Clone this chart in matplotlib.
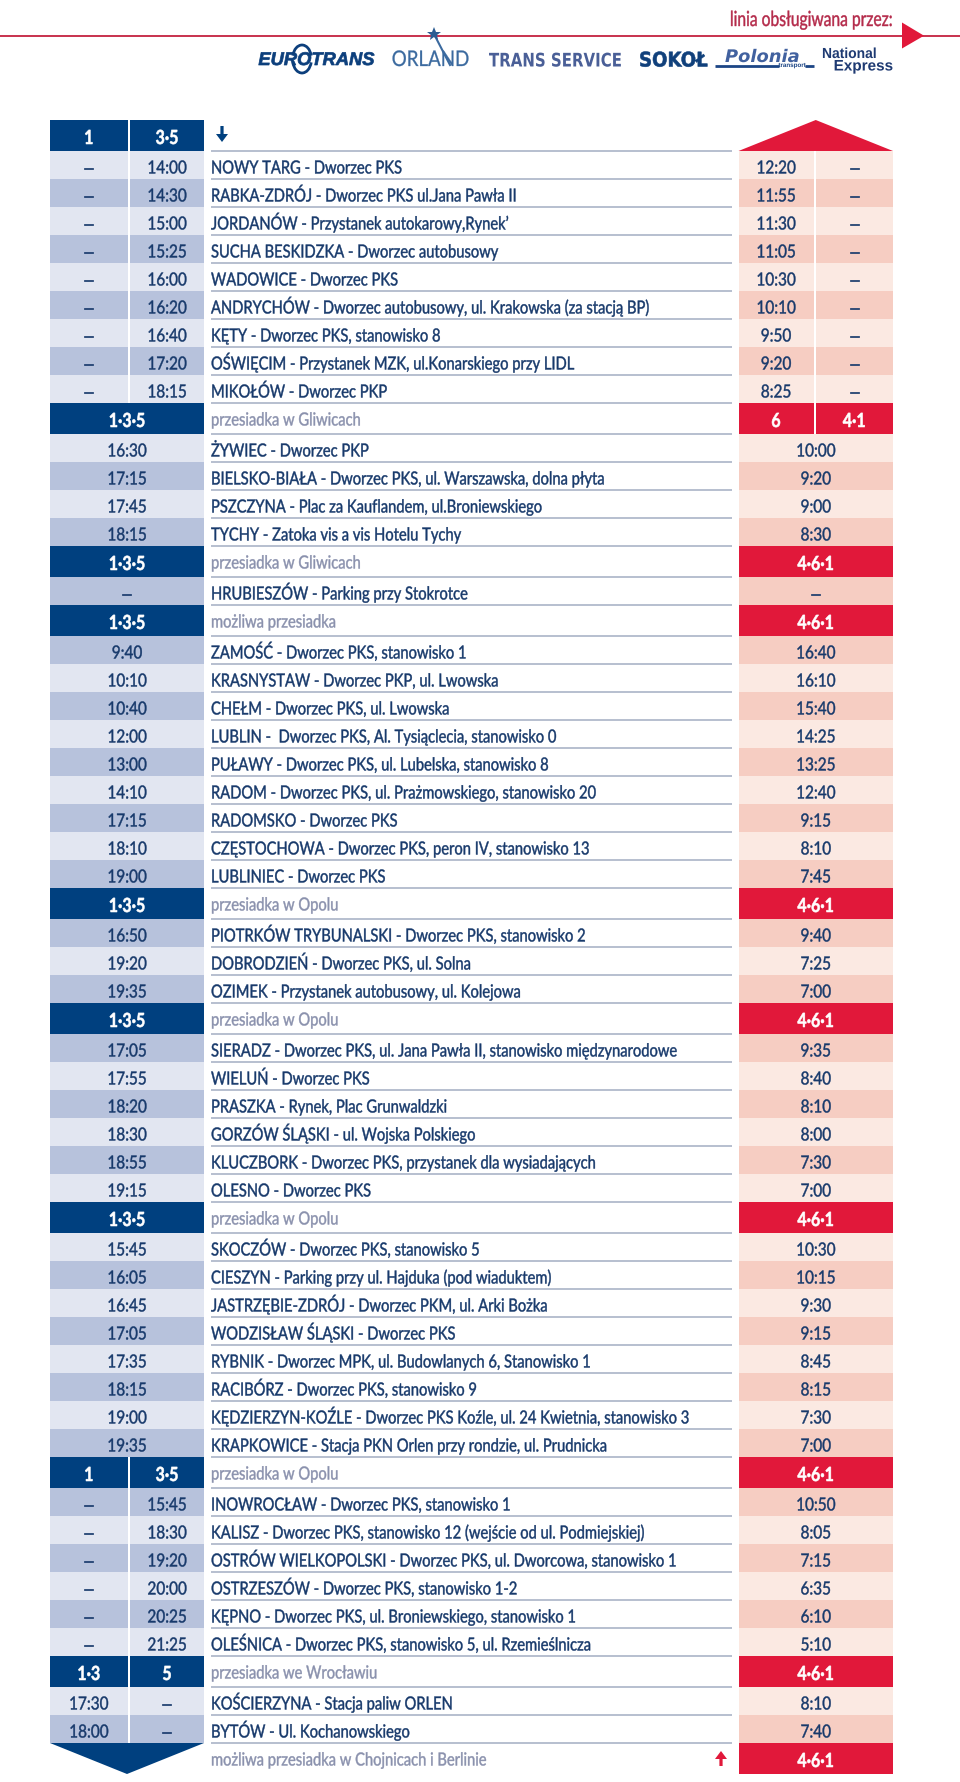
import matplotlib
matplotlib.use('Agg')
import matplotlib.pyplot as plt
from matplotlib.patches import Rectangle, Polygon, Arc
from matplotlib.patheffects import AbstractPathEffect
from matplotlib.text import Text
from matplotlib.transforms import Affine2D, Bbox

plt.rcParams['font.family'] = ['Lato', 'DejaVu Sans']

stops = [
    '',
    'NOWY TARG - Dworzec PKS',
    'RABKA-ZDRÓJ - Dworzec PKS ul.Jana Pawła II',
    'JORDANÓW - Przystanek autokarowy,Rynek’',
    'SUCHA BESKIDZKA - Dworzec autobusowy',
    'WADOWICE - Dworzec PKS',
    'ANDRYCHÓW - Dworzec autobusowy, ul. Krakowska (za stacją BP)',
    'KĘTY - Dworzec PKS, stanowisko 8',
    'OŚWIĘCIM - Przystanek MZK, ul.Konarskiego przy LIDL',
    'MIKOŁÓW - Dworzec PKP',
    'przesiadka w Gliwicach',
    'ŻYWIEC - Dworzec PKP',
    'BIELSKO-BIAŁA - Dworzec PKS, ul. Warszawska, dolna płyta',
    'PSZCZYNA - Plac za Kauflandem, ul.Broniewskiego',
    'TYCHY - Zatoka vis a vis Hotelu Tychy',
    'przesiadka w Gliwicach',
    'HRUBIESZÓW - Parking przy Stokrotce',
    'możliwa przesiadka',
    'ZAMOŚĆ - Dworzec PKS, stanowisko 1',
    'KRASNYSTAW - Dworzec PKP, ul. Lwowska',
    'CHEŁM - Dworzec PKS, ul. Lwowska',
    'LUBLIN -  Dworzec PKS, Al. Tysiąclecia, stanowisko 0',
    'PUŁAWY - Dworzec PKS, ul. Lubelska, stanowisko 8',
    'RADOM - Dworzec PKS, ul. Prażmowskiego, stanowisko 20',
    'RADOMSKO - Dworzec PKS',
    'CZĘSTOCHOWA - Dworzec PKS, peron IV, stanowisko 13',
    'LUBLINIEC - Dworzec PKS',
    'przesiadka w Opolu',
    'PIOTRKÓW TRYBUNALSKI - Dworzec PKS, stanowisko 2',
    'DOBRODZIEŃ - Dworzec PKS, ul. Solna',
    'OZIMEK - Przystanek autobusowy, ul. Kolejowa',
    'przesiadka w Opolu',
    'SIERADZ - Dworzec PKS, ul. Jana Pawła II, stanowisko międzynarodowe',
    'WIELUŃ - Dworzec PKS',
    'PRASZKA - Rynek, Plac Grunwaldzki',
    'GORZÓW ŚLĄSKI - ul. Wojska Polskiego',
    'KLUCZBORK - Dworzec PKS, przystanek dla wysiadających',
    'OLESNO - Dworzec PKS',
    'przesiadka w Opolu',
    'SKOCZÓW - Dworzec PKS, stanowisko 5',
    'CIESZYN - Parking przy ul. Hajduka (pod wiaduktem)',
    'JASTRZĘBIE-ZDRÓJ - Dworzec PKM, ul. Arki Bożka',
    'WODZISŁAW ŚLĄSKI - Dworzec PKS',
    'RYBNIK - Dworzec MPK, ul. Budowlanych 6, Stanowisko 1',
    'RACIBÓRZ - Dworzec PKS, stanowisko 9',
    'KĘDZIERZYN-KOŹLE - Dworzec PKS Koźle, ul. 24 Kwietnia, stanowisko 3',
    'KRAPKOWICE - Stacja PKN Orlen przy rondzie, ul. Prudnicka',
    'przesiadka w Opolu',
    'INOWROCŁAW - Dworzec PKS, stanowisko 1',
    'KALISZ - Dworzec PKS, stanowisko 12 (wejście od ul. Podmiejskiej)',
    'OSTRÓW WIELKOPOLSKI - Dworzec PKS, ul. Dworcowa, stanowisko 1',
    'OSTRZESZÓW - Dworzec PKS, stanowisko 1-2',
    'KĘPNO - Dworzec PKS, ul. Broniewskiego, stanowisko 1',
    'OLEŚNICA - Dworzec PKS, stanowisko 5, ul. Rzemieślnicza',
    'przesiadka we Wrocławiu',
    'KOŚCIERZYNA - Stacja paliw ORLEN',
    'BYTÓW - Ul. Kochanowskiego',
    'możliwa przesiadka w Chojnicach i Berlinie',
]

# None in a *_2 list means the cell spans both columns
left_1 = ['1', '–', '–', '–', '–', '–', '–', '–', '–', '–',
          '1·3·5', '16:30', '17:15', '17:45', '18:15',
          '1·3·5', '–',
          '1·3·5', '9:40', '10:10', '10:40', '12:00', '13:00', '14:10', '17:15', '18:10', '19:00',
          '1·3·5', '16:50', '19:20', '19:35',
          '1·3·5', '17:05', '17:55', '18:20', '18:30', '18:55', '19:15',
          '1·3·5', '15:45', '16:05', '16:45', '17:05', '17:35', '18:15', '19:00', '19:35',
          '1', '–', '–', '–', '–', '–', '–',
          '1·3', '17:30', '18:00', None]
left_2 = ['3·5', '14:00', '14:30', '15:00', '15:25', '16:00', '16:20', '16:40', '17:20', '18:15',
          None, None, None, None, None,
          None, None,
          None, None, None, None, None, None, None, None, None, None,
          None, None, None, None,
          None, None, None, None, None, None, None,
          None, None, None, None, None, None, None, None, None,
          '3·5', '15:45', '18:30', '19:20', '20:00', '20:25', '21:25',
          '5', '–', '–', None]
right_1 = [None, '12:20', '11:55', '11:30', '11:05', '10:30', '10:10', '9:50', '9:20', '8:25',
           '6', '10:00', '9:20', '9:00', '8:30',
           '4·6·1', '–',
           '4·6·1', '16:40', '16:10', '15:40', '14:25', '13:25', '12:40', '9:15', '8:10', '7:45',
           '4·6·1', '9:40', '7:25', '7:00',
           '4·6·1', '9:35', '8:40', '8:10', '8:00', '7:30', '7:00',
           '4·6·1', '10:30', '10:15', '9:30', '9:15', '8:45', '8:15', '7:30', '7:00',
           '4·6·1', '10:50', '8:05', '7:15', '6:35', '6:10', '5:10',
           '4·6·1', '8:10', '7:40', '4·6·1']
right_2 = [None, '–', '–', '–', '–', '–', '–', '–', '–', '–',
           '4·1'] + [None] * 47

# does the band pattern start with the darker tint, section by section
section_starts_dark = [False, False, True, True, True, True, False, True, False]

operators = ['EUROTRANS', 'ORLAND', 'TRANS SERVICE', 'SOKOŁ', 'Polonia', 'transport', 'National', 'Express']

NAVY = '#00407f'
RED = '#e1183a'
BLUE_LIGHT = '#e2e6f1'
BLUE_DARK = '#b7c2dc'
PINK_LIGHT = '#fbe9e2'
PINK_DARK = '#f6cdc2'
RULE = '#a3adc2'
TEXT = '#17396b'
GREY = '#8a91ad'

fig = plt.figure(figsize=(9.6, 17.83), dpi=100)
ax = fig.add_axes([0, 0, 1, 1])
ax.set_xlim(0, 960)
ax.set_ylim(1783, 0)
ax.axis('off')

L0, L1, L2, L3 = 50, 127.5, 130, 204
R0, R1, R2, R3 = 738.5, 813.5, 815.5, 893
TEXT_X, RULE_END = 211, 732
SIZE = 13
CELL_SQUEEZE = 0.85
STOP_SQUEEZE = 0.815
STROKE = 0.3


class Squeeze(AbstractPathEffect):
    # none of the installed fonts is condensed, so narrow the glyphs when drawn
    def __init__(self, text, factor, stroke):
        super().__init__()
        self.text = text
        self.factor = factor
        self.stroke = stroke

    def draw_path(self, renderer, gc, tpath, affine, rgbFace=None):
        x0 = self.text.get_transform().transform(self.text.get_position())[0]
        narrow = affine + Affine2D().translate(-x0, 0).scale(self.factor, 1).translate(x0, 0)
        gc0 = renderer.new_gc()
        gc0.copy_properties(gc)
        gc0.set_foreground(rgbFace)
        gc0.set_linewidth(self.stroke)
        renderer.draw_path(gc0, tpath, narrow, rgbFace)
        gc0.restore()


class NarrowText(Text):
    def __init__(self, x, y, s, factor, stroke, **kw):
        super().__init__(x, y, s, **kw)
        self.factor = factor
        self.set_path_effects([Squeeze(self, factor, stroke)])

    def get_window_extent(self, renderer=None, dpi=None):
        box = super().get_window_extent(renderer, dpi)
        x0 = self.get_transform().transform(self.get_position())[0]
        return Bbox([[x0 + (box.x0 - x0) * self.factor, box.y0],
                     [x0 + (box.x1 - x0) * self.factor, box.y1]])


def label(x, y, s, factor=CELL_SQUEEZE, stroke=STROKE, **kw):
    kw.setdefault('va', 'baseline')
    kw.setdefault('zorder', 3)
    return ax.add_artist(NarrowText(x, y, s, factor, stroke, **kw))


def band(x0, x1, top, bottom, color):
    ax.add_patch(Rectangle((x0, top), x1 - x0, bottom - top, fc=color, ec='none', zorder=1))


def cell_text(x, base, s, txt, transfer):
    if s == '–':
        # the dash of the original is long and heavy
        label(x, base, s, 1.25, 0.5, ha='center', color=txt, fontsize=SIZE)
    elif transfer:
        label(x, base, s, 0.82, 0.4, ha='center', color=txt, fontsize=SIZE + 1, fontweight='bold')
    else:
        label(x, base, s, ha='center', color=txt, fontsize=SIZE)


def cells(first, second, x0, x1, x2, x3, top, bottom, color, transfer):
    txt = 'white' if transfer else TEXT
    base = bottom - (7 if transfer else 5.5)
    if second is None:
        band(x0, x3, top, bottom, color)
        cell_text((x0 + x3) / 2, base, first, txt, transfer)
    else:
        band(x0, x1, top, bottom, color)
        band(x2, x3, top, bottom, color)
        cell_text((x0 + x1) / 2, base, first, txt, transfer)
        cell_text((x2 + x3) / 2, base, second, txt, transfer)


def arrow(x, tip, tail, color):
    # small block arrow, tip and tail given as y values
    d = 1 if tail > tip else -1
    head = tip + d * 8
    ax.add_patch(Polygon([(x, tip), (x + 6, head), (x + 1.6, head), (x + 1.6, tail),
                          (x - 1.6, tail), (x - 1.6, head), (x - 6, head)],
                         fc=color, ec='none', zorder=3))


y = 121
section = -1
dark = False
for i, stop in enumerate(stops):
    transfer = i == 0 or stop.startswith(('przesiadka', 'możliwa'))
    bottom = y + (31 if transfer else 28)
    last = i == len(stops) - 1
    if transfer:
        section += 1
        if not last:
            dark = section_starts_dark[section]
        if i == 0:
            cells(left_1[i], left_2[i], L0, L1, L2, L3, y, bottom, NAVY, True)
            ax.add_patch(Polygon([(R0, bottom), ((R0 + R3) / 2, y), (R3, bottom)],
                                 fc=RED, ec='none', zorder=2))
            arrow(222, bottom - 9, y + 6, NAVY)
        elif last:
            ax.add_patch(Polygon([(L0, y), (L3, y), ((L0 + L3) / 2, bottom)],
                                 fc=NAVY, ec='none', zorder=2))
            cells(right_1[i], right_2[i], R0, R1, R2, R3, y, bottom, RED, True)
            arrow(721, y + 8, bottom - 8, RED)
        else:
            cells(left_1[i], left_2[i], L0, L1, L2, L3, y, bottom, NAVY, True)
            cells(right_1[i], right_2[i], R0, R1, R2, R3, y, bottom, RED, True)
        label(TEXT_X, bottom - 8.5, stop, STOP_SQUEEZE, ha='left', color=GREY, fontsize=SIZE)
    else:
        cells(left_1[i], left_2[i], L0, L1, L2, L3, y, bottom,
              BLUE_DARK if dark else BLUE_LIGHT, False)
        cells(right_1[i], right_2[i], R0, R1, R2, R3, y, bottom,
              PINK_DARK if dark else PINK_LIGHT, False)
        label(TEXT_X, bottom - 5.5, stop, STOP_SQUEEZE, ha='left', color=TEXT, fontsize=SIZE)
        dark = not dark
    if not last:
        ax.plot([TEXT_X, RULE_END], [bottom, bottom], color=RULE, lw=1.1,
                solid_capstyle='butt', zorder=2)
    y = bottom

# heading line and operator names
ax.plot([0, 960], [36.7, 36.7], color='#c4213f', lw=1.3, zorder=2)
ax.add_patch(Polygon([(902, 23.5), (924, 36.7), (902, 49.5)], fc=RED, ec='none', zorder=3))
label(892.5, 27, 'linia obsługiwana przez:', 0.75, ha='right', color='#b42a4a', fontsize=15)

label(316.5, 66, operators[0], 1.0, 0.5, ha='center', color='#0c3f7c', fontsize=13.2,
      fontweight='bold', style='italic', family='Liberation Sans')
for t1, t2 in [(20, 160), (200, 340)]:
    ax.add_patch(Arc((302, 60), 19, 28, theta1=t1, theta2=t2, color='#0c3f7c', lw=2, zorder=3))
label(430.5, 67, operators[1], 0.87, 0.2, ha='center', color='#3b6a9f', fontsize=15.5)
ax.plot([434], [35], marker='*', ms=10, color='#2c5c92', mew=0, zorder=4)
ax.plot([435, 450], [37, 66], color='#3b6a9f', lw=1.5, zorder=3)
label(555.5, 67.5, operators[2], 0.8, 0, ha='center', color='#4a5f97', fontsize=13.5,
      fontweight='bold', family='DejaVu Sans')
label(673.5, 67.5, operators[3], 0.9, 0.4, ha='center', color='#10407b', fontsize=14.5,
      fontweight='bold', family='DejaVu Sans')
label(762.5, 63, operators[4], 1.03, 0, ha='center', color='#41619f', fontsize=12.5,
      fontweight='bold', style='italic', family='DejaVu Sans')
ax.plot([715, 779], [66.5, 66.5], color='#1c4585', lw=2, solid_capstyle='butt', zorder=2)
ax.plot([805, 814], [66.5, 66.5], color='#1c4585', lw=2, solid_capstyle='butt', zorder=2)
label(792, 68, operators[5], 1.0, 0, ha='center', color='#1c4585', fontsize=4.5,
      fontweight='bold', family='Liberation Sans')
label(822, 59, operators[6], 0.95, 0, ha='left', color='#1e3a72', fontsize=10.5,
      fontweight='bold', family='Liberation Sans')
label(893, 71.5, operators[7], 1.0, 0, ha='right', color='#1e3a72', fontsize=11,
      fontweight='bold', family='Liberation Sans')

fig.savefig('out.png', dpi=100)
